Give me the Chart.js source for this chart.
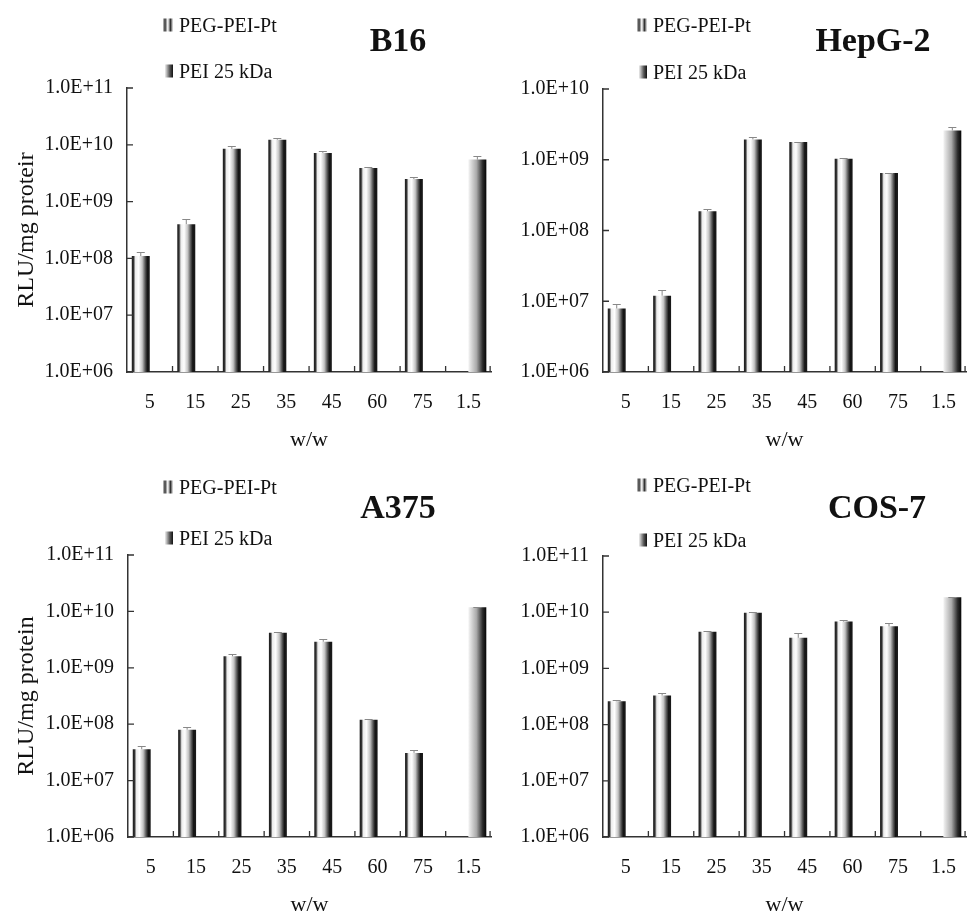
<!DOCTYPE html>
<html>
<head>
<meta charset="utf-8">
<script src="https://cdn.jsdelivr.net/npm/chart.js@4.4.1/dist/chart.umd.min.js"></script>
<style>
  html, body { margin: 0; padding: 0; background: #fff; overflow: hidden; width: 967px; height: 915px; }
  body { position: relative; font-family: "Liberation Serif", "Times New Roman", serif; color: #111; }
  canvas { position: absolute; }
  .ttl { position: absolute; font-weight: bold; font-size: 34px; transform: translate(-50%, -50%); white-space: nowrap; }
  .lg { position: absolute; font-size: 20px; white-space: nowrap; transform: translateY(-50%); display: flex; align-items: center; }
  .mk { display: inline-block; width: 10px; height: 13px; margin-right: 6px; }
  .mk.peg { background: linear-gradient(to right, #ccc 0%, #333 20%, #eee 45%, #ccc 55%, #333 75%, #eee 100%); }
  .mk.pei { width: 8px; background: linear-gradient(to right, #eee, #555 60%, #111); }
</style>
</head>
<body>

<canvas id="b16" width="500" height="460" style="left:0;top:0"></canvas>
<canvas id="hepg2" width="485" height="460" style="left:490px;top:0"></canvas>
<canvas id="a375" width="500" height="460" style="left:0;top:460px"></canvas>
<canvas id="cos7" width="485" height="460" style="left:490px;top:460px"></canvas>

<div class="ttl" style="left:398px;top:40px">B16</div>
<div class="ttl" style="left:873px;top:40px">HepG-2</div>
<div class="ttl" style="left:398px;top:507px">A375</div>
<div class="ttl" style="left:877px;top:507px">COS-7</div>

<div class="lg" style="left:163px;top:25px"><span class="mk peg"></span>PEG-PEI-Pt</div>
<div class="lg" style="left:165px;top:71px"><span class="mk pei"></span>PEI 25 kDa</div>
<div class="lg" style="left:637px;top:25px"><span class="mk peg"></span>PEG-PEI-Pt</div>
<div class="lg" style="left:639px;top:72px"><span class="mk pei"></span>PEI 25 kDa</div>
<div class="lg" style="left:163px;top:487px"><span class="mk peg"></span>PEG-PEI-Pt</div>
<div class="lg" style="left:165px;top:538px"><span class="mk pei"></span>PEI 25 kDa</div>
<div class="lg" style="left:637px;top:485px"><span class="mk peg"></span>PEG-PEI-Pt</div>
<div class="lg" style="left:639px;top:540px"><span class="mk pei"></span>PEI 25 kDa</div>

<script>
const categories = ['5', '15', '25', '35', '45', '60', '75', '1.5'];
const ticksTo11 = [1e6, 1e7, 1e8, 1e9, 1e10, 1e11];
const ticksTo10 = [1e6, 1e7, 1e8, 1e9, 1e10];

const b16Peg    = [1.1e8, 4.0e8, 8.5e9, 1.23e10, 7.2e9, 3.9e9, 2.5e9, null];
const b16PegErr = [1.3e8, 4.9e8, 9.5e9, 1.3e10, 7.8e9, 4.1e9, 2.7e9, null];
const b16Pei    = [null, null, null, null, null, null, null, 5.5e9];
const b16PeiErr = [null, null, null, null, null, null, null, 6.4e9];

const hepPeg    = [7.9e6, 1.2e7, 1.87e8, 1.94e9, 1.78e9, 1.03e9, 6.5e8, null];
const hepPegErr = [9.1e6, 1.46e7, 2.0e8, 2.1e9, 1.8e9, 1.05e9, 6.6e8, null];
const hepPei    = [null, null, null, null, null, null, null, 2.6e9];
const hepPeiErr = [null, null, null, null, null, null, null, 2.9e9];

const a375Peg    = [3.6e7, 8.0e7, 1.6e9, 4.2e9, 2.9e9, 1.2e8, 3.1e7, null];
const a375PegErr = [4.1e7, 9.1e7, 1.73e9, 4.4e9, 3.2e9, 1.23e8, 3.5e7, null];
const a375Pei    = [null, null, null, null, null, null, null, 1.18e10];
const a375PeiErr = [null, null, null, null, null, null, null, 1.2e10];

const cosPeg    = [2.6e8, 3.3e8, 4.5e9, 9.8e9, 3.5e9, 6.8e9, 5.6e9, null];
const cosPegErr = [2.7e8, 3.6e8, 4.7e9, 1.0e10, 4.2e9, 7.3e9, 6.3e9, null];
const cosPei    = [null, null, null, null, null, null, null, 1.85e10];
const cosPeiErr = [null, null, null, null, null, null, null, 1.9e10];

const serif = '"Liberation Serif", "Times New Roman", serif';
const ink = '#111';

const pegStops = [[0, '#1a1a1a'], [0.1, '#333'], [0.2, '#ececec'], [0.38, '#fefefe'],
                  [0.58, '#c4c4c4'], [0.74, '#5a5a5a'], [0.86, '#151515'], [1, '#1a1a1a']];
const peiStops = [[0, '#f4f4f4'], [0.45, '#aaa'], [0.8, '#2a2a2a'], [1, '#050505']];

// cylinder-like shading for each bar
const shading = {
  id: 'shading',
  beforeDatasetsDraw(chart) {
    const c = chart.ctx;
    chart.data.datasets.forEach((ds, i) => {
      chart.getDatasetMeta(i).data.forEach((bar, j) => {
        if (ds.data[j] == null) return;
        const g = c.createLinearGradient(bar.x - bar.width / 2, 0, bar.x + bar.width / 2, 0);
        ds.stops.forEach(s => g.addColorStop(s[0], s[1]));
        bar.options = Object.assign({}, bar.options, { backgroundColor: g });
      });
    });
  }
};

// small error caps above the bars
const errorBars = {
  id: 'errorBars',
  afterDatasetsDraw(chart) {
    const { ctx, scales: { y } } = chart;
    ctx.save();
    ctx.strokeStyle = '#888';
    ctx.lineWidth = 1;
    ctx.beginPath();
    chart.data.datasets.forEach((ds, i) => {
      chart.getDatasetMeta(i).data.forEach((bar, j) => {
        const e = ds.errs[j];
        if (e == null || ds.data[j] == null) return;
        const top = Math.round(y.getPixelForValue(e)) + 0.5;
        ctx.moveTo(bar.x, bar.y);
        ctx.lineTo(bar.x, top);
        ctx.moveTo(bar.x - 4, top);
        ctx.lineTo(bar.x + 4, top);
      });
    });
    ctx.stroke();
    ctx.restore();
  }
};

// tick marks pointing into the plot
const innerTicks = {
  id: 'innerTicks',
  afterDraw(chart) {
    const { ctx, chartArea: a, scales: { x, y } } = chart;
    ctx.save();
    ctx.strokeStyle = '#333';
    ctx.lineWidth = 1.3;
    ctx.beginPath();
    y.ticks.forEach(t => {
      const py = y.getPixelForValue(t.value);
      ctx.moveTo(a.left, py);
      ctx.lineTo(a.left + 6, py);
    });
    const n = x.ticks.length;
    for (let i = 1; i <= n; i++) {
      const px = i < n ? (x.getPixelForValue(i - 1) + x.getPixelForValue(i)) / 2 : a.right - 1;
      ctx.moveTo(px, a.bottom);
      ctx.lineTo(px, a.bottom - 6);
    }
    ctx.stroke();
    ctx.restore();
  }
};

function expLabel(v) {
  const p = Math.round(Math.log10(v));
  return '1.0E+' + String(p).padStart(2, '0');
}

function panel(id, peg, pegErr, pei, peiErr, yTicks, yTitle, box) {
  new Chart(document.getElementById(id), {
    type: 'bar',
    data: {
      labels: categories,
      datasets: [
        { label: 'PEG-PEI-Pt', data: peg, errs: pegErr, stops: pegStops, backgroundColor: '#999' },
        { label: 'PEI 25 kDa', data: pei, errs: peiErr, stops: peiStops, backgroundColor: '#555' }
      ]
    },
    options: {
      responsive: false,
      animation: false,
      categoryPercentage: 0.79,
      barPercentage: 1,
      layout: { padding: { top: box.top, right: 2, left: 0, bottom: 0 } },
      plugins: { legend: { display: false }, tooltip: { enabled: false } },
      scales: {
        x: {
          grid: { display: false, drawTicks: false },
          border: { color: '#333', width: 1.5 },
          ticks: { color: ink, font: { family: serif, size: 20 }, padding: 19, maxRotation: 0, autoSkip: false },
          title: { display: true, text: 'w/w', color: ink, font: { family: serif, size: 22 },
                   padding: { top: 0, bottom: box.wwPad } },
          afterFit: s => { s.height = box.xh; }
        },
        y: {
          type: 'logarithmic',
          min: yTicks[0],
          max: yTicks[yTicks.length - 1],
          grid: { display: false, drawTicks: false },
          border: { color: '#333', width: 1.5 },
          afterBuildTicks: s => { s.ticks = yTicks.map(v => ({ value: v })); },
          ticks: { color: ink, font: { family: serif, size: 20 }, padding: 14, callback: v => expLabel(v) },
          title: { display: !!yTitle, text: yTitle, color: ink, font: { family: serif, size: 24 },
                   padding: { top: 12, bottom: 0 } },
          afterFit: s => { s.width = box.yw; }
        }
      }
    },
    plugins: [shading, errorBars, innerTicks]
  });
}

panel('b16', b16Peg, b16PegErr, b16Pei, b16PeiErr, ticksTo11, 'RLU/mg proteir', { top: 88, yw: 127, xh: 88, wwPad: 7 });
panel('hepg2', hepPeg, hepPegErr, hepPei, hepPeiErr, ticksTo10, '', { top: 89, yw: 113, xh: 88, wwPad: 7 });
panel('a375', a375Peg, a375PegErr, a375Pei, a375PeiErr, ticksTo11, 'RLU/mg protein', { top: 95, yw: 128, xh: 83, wwPad: 2 });
panel('cos7', cosPeg, cosPegErr, cosPei, cosPeiErr, ticksTo11, '', { top: 96, yw: 113, xh: 83, wwPad: 2 });
</script>
</body>
</html>
